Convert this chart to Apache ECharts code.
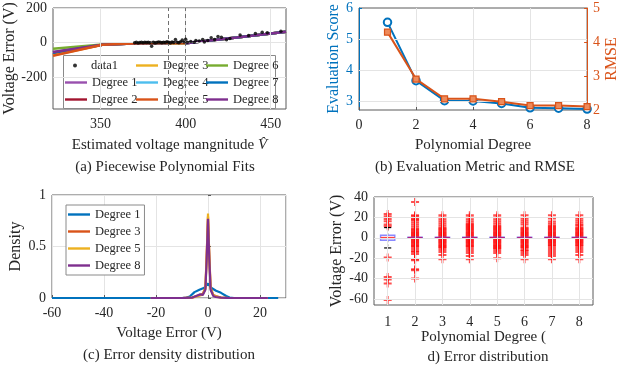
<!DOCTYPE html>
<html><head><meta charset="utf-8">
<script src="https://cdn.jsdelivr.net/npm/echarts@6/dist/echarts.min.js"></script>
<style>html,body{margin:0;padding:0;background:#fff}#c{width:621px;height:371px}</style>
</head><body><div id="c"></div>
<script>
// ---------- (a) Piecewise polynomial fits ----------
const data1X = [370,371,372,373,374,375,376,377,378,379,380,381,382,383,384,385,386,387,388,389,390,391,392,393,394,395,396,397,398,399,400,401,403,405,406,408,410,411,413,415,417,419,421,424,426,432,437,441,445,448,456];
const data1Y = [-1,1,-2,0,2,-1,1,0,2,-1,-22,1,-2,0,3,1,-1,2,0,4,1,-2,3,0,17,2,-1,4,15,3,19,2,6,2,12,9,17,3,12,27,18,35,31,16,24,44,40,52,60,56,65];
const degreeNames = ['Degree 1','Degree 2','Degree 3','Degree 4','Degree 5','Degree 6','Degree 7','Degree 8'];
const fitSeg1X = [322, 351, 372, 390];
const fitSeg1Y = [
  [-56,-13,-4,-2],  // Degree 1
  [-68,-13,-4,-2],  // Degree 2
  [-74,-13,-4,-2],  // Degree 3
  [-57,-13,-4,-2],  // Degree 4
  [-77,-13,-4,-2],  // Degree 5
  [-36,-12,-4,-2],  // Degree 6
  [-59,-13,-4,-2],  // Degree 7
  [-55,-13,-4,-2]   // Degree 8
];
const fitSeg2X = [390, 400];
const fitSeg2Y = [
  [-3,-3],[-3,-3],[-4,-4],[-3,-3],[-2,-2],[-3,-3],[-3,-3],[-3,-3]
];
const fitSeg3X = [400, 430, 459];
const fitSeg3Y = [
  [-4,29,63],[-4,29,63],[-4,29,63],[-4,29,63],[-4,29,63],[-4,29,63],[-4,29,63],[-4,29,63]
];
const aXTicks = [350, 400, 450];
const aYTicks = [-200, 0, 200];
const aBreaks = [390, 400];

// ---------- (b) Evaluation metric and RMSE ----------
const degX = [1,2,3,4,5,6,7,8];
const evalScore = [5.54, 3.67, 3.03, 3.02, 2.94, 2.80, 2.79, 2.76];
const rmse = [4.29, 2.91, 2.33, 2.33, 2.245, 2.13, 2.13, 2.10];
const bLeftTicks = [3,4,5,6];

// ---------- (c) Error density ----------
const kdeX1 = [-60,-10,-8.3,-7,-6.5,-5.2,-3.3,-1.4,0,1.2,3.1,5,7,8.3,10,27];
const kdeY1 = [0,0,0.005,0.015,0.02,0.057,0.08,0.10,0.14,0.10,0.07,0.05,0.02,0.005,0,0];
const kdeX3 = [-22,-10,-6,-4.5,-3,-2,-1,-0.5,0,0.5,1,2,3,5,8,23];
const kdeY3 = [0,0,0.005,0.02,0.03,0.04,0.1,0.42,0.79,0.42,0.1,0.03,0.02,0.005,0,0];
const kdeX5 = [-22,-10,-6,-4.5,-3,-2,-1,-0.5,0,0.5,1,2,3,5,8,23];
const kdeY5 = [0,0,0.004,0.015,0.025,0.035,0.09,0.4,0.82,0.4,0.09,0.03,0.015,0.004,0,0];
const kdeX8 = [-22,-10,-6,-4.5,-3,-2,-1,-0.5,0,0.5,1,2,3,5,8,23];
const kdeY8 = [0,0,0.004,0.02,0.035,0.03,0.08,0.38,0.77,0.38,0.08,0.02,0.01,0.003,0,0];

// ---------- (d) Error distribution (boxplot) ----------
const boxCats = ['1','2','3','4','5','6','7','8'];
const boxQ1 = [-2.5,-0.4,-0.4,-0.4,-0.4,-0.4,-0.4,-0.4];
const boxMed = [0,0,0,0,0,0,0,0];
const boxQ3 = [2.5,0.4,0.4,0.4,0.4,0.4,0.4,0.4];
const whiskLo = [-10,-0.4,-0.4,-0.4,-0.4,-0.4,-0.4,-0.4];
const whiskHi = [10,0.4,0.4,0.4,0.4,0.4,0.4,0.4];
const out1 = [23.4,21.1,18.5,16.2,13,11.3,-19.5,-38.4,-41,-45,-61.2];
const out2 = [35,22,21,19,18,17,15,13,11,9,8,7,6,5,4,3,2,1,-1,-2,-3,-4,-5,-6,-7,-8,-9,-11,-13,-14,-16,-21,-22,-31,-32,-40];
const out3 = [22,20,18,16,14,12,10,9,8,7,6,5,4,3,2,1,-1,-2,-3,-4,-5,-6,-7,-8,-9,-10,-12,-14,-17,-21];
const out4 = [22,20,18,16,14,13,12,11,10,9,8,7,6,5,4,3,2,1,-1,-2,-3,-4,-5,-6,-7,-8,-9,-11,-13,-15,-18,-21];
const out5 = [22,20,18,16,14,12,11,10,9,8,7,6,5,4,3,2,1,-1,-2,-3,-4,-5,-6,-7,-8,-9,-10,-11,-13,-15,-20];
const out6 = [22,19,17,15,13,10,9,8,7,6,5,4,3,2,1,-1,-2,-3,-4,-5,-6,-7,-8,-9,-10,-12,-13,-15,-17,-21];
const out7 = [22,19,16,14,12,11,10,9,8,7,6,5,4,3,2,1,-1,-2,-3,-4,-5,-6,-7,-8,-10,-12,-14,-16,-18,-21];
const out8 = [22,19,17,15,13,12,10,9,8,7,6,5,4,3,2,1,-1,-2,-3,-4,-5,-6,-7,-8,-10,-12,-14,-17,-21];
const outliers = [out1,out2,out3,out4,out5,out6,out7,out8];
const dYTicks = [-60,-40,-20,0,20,40];

// ---------- styling ----------
const FF = '"Liberation Serif", serif';
const TXT = '#262626';
const FRAME = '#5a5a5a';
const GRIDC = '#e4e4e4';
const BLUE = '#0072BD', ORANGE = '#D95319';
const degColors = ['#9950AE','#A2142F','#EDB120','#4DBEEE','#D95319','#77AC30','#0072BD','#7E2F8E'];
function tf(extra) { return Object.assign({fontFamily: FF, fontSize: 14, color: TXT}, extra || {}); }
function nf(extra) { return Object.assign({fontFamily: FF, fontSize: 15, color: TXT}, extra || {}); }
function lt() { return {fontFamily: FF, fontSize: 12.5, color: TXT}; }
function tickIn(extra) { return Object.assign({show: true, inside: true, length: 3, lineStyle: {color: FRAME}}, extra || {}); }
const lineIcon = 'path://M0,0H22V2.4H0Z';

function gridLineSeries(xi, yi, xs, ys) {
  const d = [];
  xs.forEach(v => d.push({xAxis: v}));
  ys.forEach(v => d.push({yAxis: v}));
  return {type: 'line', xAxisIndex: xi, yAxisIndex: yi, data: [], z: 1, silent: true,
    markLine: {silent: true, symbol: 'none', label: {show: false}, animation: false,
      lineStyle: {color: GRIDC, width: 1, type: 'solid'}, data: d}};
}

const series = [];
// (a)
series.push(gridLineSeries(0, 0, aXTicks, aYTicks));
series.push({type: 'line', xAxisIndex: 0, yAxisIndex: 0, data: [], z: 2, silent: true,
  markLine: {silent: true, symbol: 'none', label: {show: false}, animation: false,
    lineStyle: {color: '#707070', width: 1, type: [4, 3]}, data: aBreaks.map(v => ({xAxis: v}))}});
function fitSeries(k, n, xs, ys) {
  return {type: 'line', name: degreeNames[k], xAxisIndex: 0, yAxisIndex: 0, symbol: 'none', z: 3 + n * 0.01,
    lineStyle: {width: 2.5, color: degColors[k]}, itemStyle: {color: degColors[k]},
    data: xs.map((x, i) => [x, ys[k][i]])};
}
[0,1,2,3,5,6,7,4].forEach((k, n) => series.push(fitSeries(k, n, fitSeg1X, fitSeg1Y)));
[0,1,3,5,6,7,2,4].forEach((k, n) => series.push(fitSeries(k, n, fitSeg2X, fitSeg2Y)));
[0,1,2,3,4,5,6,7].forEach((k, n) => series.push(fitSeries(k, n, fitSeg3X, fitSeg3Y)));
series.push({type: 'scatter', name: 'data1', xAxisIndex: 0, yAxisIndex: 0, symbol: 'circle', symbolSize: 3.5, z: 5,
  itemStyle: {color: '#000'}, data: data1X.map((x, i) => [x, data1Y[i]])});

// (b)
series.push(gridLineSeries(1, 1, [], [3,4,5]));
series.push({type: 'line', name: 'Evaluation Score', xAxisIndex: 1, yAxisIndex: 1, z: 4,
  symbol: 'emptyCircle', symbolSize: 7.5, lineStyle: {width: 2, color: BLUE},
  itemStyle: {color: BLUE, borderWidth: 1.8}, data: degX.map((x, i) => [x, evalScore[i]])});
series.push({type: 'line', name: 'RMSE', xAxisIndex: 1, yAxisIndex: 2, z: 5,
  symbol: 'rect', symbolSize: 6, lineStyle: {width: 2, color: ORANGE},
  itemStyle: {color: '#EE8A5A', borderColor: ORANGE, borderWidth: 1.2}, data: degX.map((x, i) => [x, rmse[i]])});

// (c)
const cSets = [['c-Degree 1', kdeX1, kdeY1, BLUE], ['c-Degree 3', kdeX3, kdeY3, ORANGE],
               ['c-Degree 5', kdeX5, kdeY5, '#EDB120'], ['c-Degree 8', kdeX8, kdeY8, '#7E2F8E']];
cSets.forEach((s, n) => {
  series.push({type: 'line', name: s[0], xAxisIndex: 2, yAxisIndex: 3, symbol: 'none', z: 3 + n * 0.01,
    lineStyle: {width: 2.2, color: s[3]}, itemStyle: {color: s[3]},
    data: s[1].map((x, i) => [x, s[2][i]])});
});

// (d)
series.push(gridLineSeries(3, 4, boxCats, dYTicks));
const plusPath = 'path://M0,5L10,5M5,0L5,10';
const outData = [];
outliers.forEach((arr, ci) => arr.forEach(v => outData.push([ci, v])));
series.push({type: 'scatter', xAxisIndex: 3, yAxisIndex: 4, symbol: plusPath, symbolSize: 8, z: 3,
  itemStyle: {color: 'rgba(0,0,0,0)', borderColor: 'rgba(255,0,0,0.85)', borderWidth: 2}, data: outData});
series.push({type: 'custom', xAxisIndex: 3, yAxisIndex: 4, z: 4,
  data: boxCats.map((c, i) => [i, boxQ1[i], boxMed[i], boxQ3[i], whiskLo[i], whiskHi[i]]),
  encode: {x: 0, y: [1,2,3,4,5]},
  renderItem: function (params, api) {
    const i = api.value(0);
    const q1 = api.value(1), med = api.value(2), q3 = api.value(3), lo = api.value(4), hi = api.value(5);
    const cx = api.coord([i, med])[0];
    const half = api.size([1, 0])[0] * 0.26;
    const yq1 = api.coord([i, q1])[1], yq3 = api.coord([i, q3])[1], ym = api.coord([i, med])[1];
    const ylo = api.coord([i, lo])[1], yhi = api.coord([i, hi])[1];
    const cap = half * 0.5;
    const ch = [];
    if (hi > q3) {
      ch.push({type: 'line', shape: {x1: cx, y1: yq3, x2: cx, y2: yhi}, style: {stroke: '#000', lineWidth: 1, lineDash: [2, 2]}});
      ch.push({type: 'line', shape: {x1: cx - cap, y1: yhi, x2: cx + cap, y2: yhi}, style: {stroke: '#000', lineWidth: 1.2}});
    }
    if (lo < q1) {
      ch.push({type: 'line', shape: {x1: cx, y1: yq1, x2: cx, y2: ylo}, style: {stroke: '#000', lineWidth: 1, lineDash: [2, 2]}});
      ch.push({type: 'line', shape: {x1: cx - cap, y1: ylo, x2: cx + cap, y2: ylo}, style: {stroke: '#000', lineWidth: 1.2}});
    }
    ch.push({type: 'rect', shape: {x: cx - half, y: yq3, width: 2 * half, height: Math.max(yq1 - yq3, 0.5)},
      style: {fill: i === 0 ? 'rgba(255,215,230,0.7)' : 'none', stroke: i === 0 ? '#8a8aff' : '#6a4ad8', lineWidth: 1.4}});
    ch.push({type: 'line', shape: {x1: cx - half, y1: ym, x2: cx + half, y2: ym}, style: {stroke: i === 0 ? '#ff4040' : '#b02080', lineWidth: 1.6}});
    return {type: 'group', children: ch};
  }});

function gridBase(o) { return Object.assign({show: true, borderColor: FRAME, borderWidth: 1, backgroundColor: '#fff', containLabel: false}, o); }

const option = {
  backgroundColor: '#fff',
  animation: false,
  textStyle: {fontFamily: FF},
  grid: [
    gridBase({left: 53, top: 8, width: 233, height: 101}),
    gridBase({left: 359, top: 8, width: 233, height: 102}),
    gridBase({left: 52, top: 195, width: 234, height: 103}),
    gridBase({left: 374, top: 197, width: 219, height: 108})
  ],
  xAxis: [
    {gridIndex: 0, type: 'value', min: 322, max: 459,
      axisLine: {show: false}, axisTick: tickIn({customValues: aXTicks}),
      axisLabel: tf({customValues: aXTicks, margin: 8}), splitLine: {show: false},
      name: 'Estimated voltage mangnitude {i|V\u0302}', nameLocation: 'middle', nameGap: 29,
      nameTextStyle: nf({rich: {i: {fontFamily: FF, fontSize: 15, fontStyle: 'italic', color: TXT}}})},
    {gridIndex: 1, type: 'value', min: 0, max: 8, interval: 2,
      axisLine: {show: false}, axisTick: tickIn(),
      axisLabel: tf({margin: 8}), splitLine: {show: true, lineStyle: {color: GRIDC}},
      name: 'Polynomial Degree', nameLocation: 'middle', nameGap: 28, nameTextStyle: nf()},
    {gridIndex: 2, type: 'value', min: -60, max: 30, interval: 20,
      axisLine: {show: false}, axisTick: tickIn(),
      axisLabel: tf({margin: 8, showMaxLabel: false}), splitLine: {show: true, lineStyle: {color: GRIDC}},
      name: 'Voltage Error (V)', nameLocation: 'middle', nameGap: 28, nameTextStyle: nf()},
    {gridIndex: 3, type: 'category', data: boxCats, boundaryGap: true,
      axisLine: {show: false}, axisTick: tickIn({alignWithLabel: true}),
      axisLabel: tf({margin: 10}), splitLine: {show: false},
      name: 'Polynomial Degree (', nameLocation: 'middle', nameGap: 23, nameTextStyle: nf()}
  ],
  yAxis: [
    {gridIndex: 0, type: 'value', min: -385, max: 200,
      axisLine: {show: false}, axisTick: tickIn({customValues: aYTicks}),
      axisLabel: tf({customValues: aYTicks, margin: 6}), splitLine: {show: false},
      name: 'Voltage Error (V)', nameLocation: 'middle', nameGap: 34, nameRotate: 90, nameTextStyle: nf({fontSize: 16})},
    {gridIndex: 1, type: 'value', min: 2.73, max: 6,
      axisLine: {show: true, lineStyle: {color: BLUE, width: 1}}, axisTick: tickIn({customValues: bLeftTicks, lineStyle: {color: BLUE}}),
      axisLabel: tf({customValues: bLeftTicks, margin: 6, color: BLUE}), splitLine: {show: false},
      name: 'Evaluation Score', nameLocation: 'middle', nameGap: 17, nameRotate: 90,
      nameTextStyle: nf({color: BLUE, fontSize: 16})},
    {gridIndex: 1, type: 'value', position: 'right', min: 2, max: 5, interval: 1,
      axisLine: {show: true, lineStyle: {color: ORANGE, width: 1}}, axisTick: tickIn({lineStyle: {color: ORANGE}}),
      axisLabel: tf({margin: 6, color: ORANGE}), splitLine: {show: false},
      name: 'RMSE', nameLocation: 'middle', nameGap: 15, nameRotate: 90,
      nameTextStyle: nf({color: ORANGE, fontSize: 16})},
    {gridIndex: 2, type: 'value', min: 0, max: 1, interval: 0.5,
      axisLine: {show: false}, axisTick: tickIn(),
      axisLabel: tf({margin: 6}), splitLine: {show: true, lineStyle: {color: GRIDC}},
      name: 'Density', nameLocation: 'middle', nameGap: 28, nameRotate: 90, nameTextStyle: nf({fontSize: 16})},
    {gridIndex: 3, type: 'value', min: -66, max: 40,
      axisLine: {show: false}, axisTick: tickIn({customValues: dYTicks}),
      axisLabel: tf({customValues: dYTicks, margin: 6}), splitLine: {show: false},
      name: 'Voltage Error (V)', nameLocation: 'middle', nameGap: 29, nameRotate: 90, nameTextStyle: nf({fontSize: 16})}
  ],
  legend: [
    {data: ['data1'], orient: 'vertical', left: 73, top: 59, itemWidth: 22, itemHeight: 4, itemGap: 4, padding: 0,
      textStyle: lt(), selectedMode: false},
    {data: [{name: 'Degree 1', icon: lineIcon}, {name: 'Degree 2', icon: lineIcon}], orient: 'vertical', left: 65, top: 76,
      itemWidth: 22, itemHeight: 12, itemGap: 4, padding: 0, textStyle: lt(), selectedMode: false},
    {data: ['Degree 3','Degree 4','Degree 5'].map(n => ({name: n, icon: lineIcon})), orient: 'vertical', left: 136, top: 59,
      itemWidth: 22, itemHeight: 12, itemGap: 4, padding: 0, textStyle: lt(), selectedMode: false},
    {data: ['Degree 6','Degree 7','Degree 8'].map(n => ({name: n, icon: lineIcon})), orient: 'vertical', left: 206, top: 59,
      itemWidth: 22, itemHeight: 12, itemGap: 4, padding: 0, textStyle: lt(), selectedMode: false},
    {data: ['c-Degree 1','c-Degree 3','c-Degree 5','c-Degree 8'].map(n => ({name: n, icon: lineIcon})), orient: 'vertical', left: 66, top: 205,
      itemWidth: 22, itemHeight: 12, itemGap: 4, padding: [3, 4, 3, 2], backgroundColor: '#fff', borderColor: '#8a8a8a', borderWidth: 1,
      formatter: n => n.replace(/^c-/, ''), textStyle: lt(), selectedMode: false}
  ],
  graphic: [
    {type: 'rect', left: 63, top: 55, z: 3, shape: {width: 212, height: 53}, style: {fill: '#fff', stroke: '#8a8a8a', lineWidth: 1}},
    {type: 'text', x: 165, y: 167, style: {text: '(a) Piecewise Polynomial Fits', font: '15px ' + FF, fill: TXT, textAlign: 'center', textVerticalAlign: 'middle'}},
    {type: 'text', x: 475, y: 167, style: {text: '(b) Evaluation Metric and RMSE', font: '15px ' + FF, fill: TXT, textAlign: 'center', textVerticalAlign: 'middle'}},
    {type: 'text', x: 169, y: 355, style: {text: '(c) Error density distribution', font: '15px ' + FF, fill: TXT, textAlign: 'center', textVerticalAlign: 'middle'}},
    {type: 'text', x: 488, y: 357, style: {text: 'd) Error distribution', font: '15px ' + FF, fill: TXT, textAlign: 'center', textVerticalAlign: 'middle'}}
  ],
  series: series
};

const chart = echarts.init(document.getElementById('c'), null, {renderer: 'canvas', width: 621, height: 371});
chart.setOption(option);
</script>
</body></html>
